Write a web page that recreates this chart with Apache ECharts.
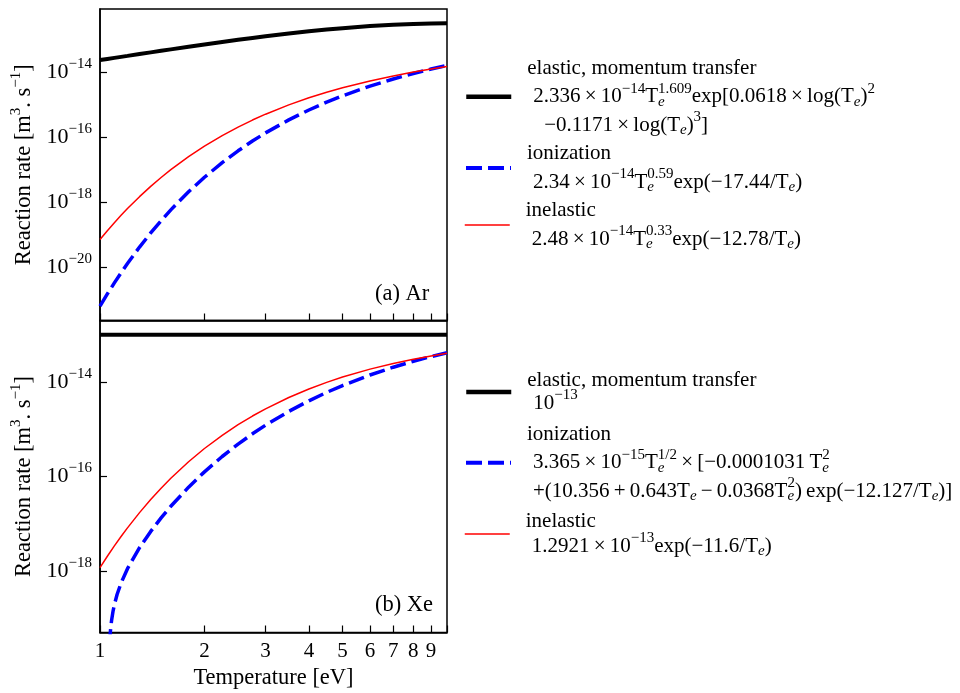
<!DOCTYPE html>
<html><head><meta charset="utf-8">
<script src="https://cdn.jsdelivr.net/npm/echarts@6/dist/echarts.min.js"></script>
<style>html,body{margin:0;padding:0;background:#fff}#c{width:960px;height:693px}</style>
</head><body><div id="c"></div>
<script>
const FONT = 'Liberation Serif';

// ---- data ----
const temperature = [1,1.05,1.1,1.15,1.2,1.3,1.4,1.5,1.6,1.8,2,2.25,2.5,2.75,3,3.5,4,4.5,5,6,7,8,9,10];
const arElastic = [2.336e-14,2.527e-14,2.724e-14,2.927e-14,3.136e-14,3.571e-14,4.024e-14,4.496e-14,4.983e-14,6.000e-14,7.060e-14,8.427e-14,9.822e-14,1.1223e-13,1.2622e-13,1.5346e-13,1.7914e-13,2.0283e-13,2.2417e-13,2.5956e-13,2.852e-13,3.022e-13,3.119e-13,3.155e-13];
const arIonization = [6.24e-22,1.473e-21,3.222e-21,6.589e-21,1.271e-20,4.075e-20,1.110e-19,2.653e-19,5.700e-19,2.051e-18,5.752e-18,1.624e-17,3.752e-17,7.482e-17,1.337e-16,3.359e-16,6.775e-16,1.179e-15,1.848e-15,3.680e-15,6.105e-15,9.020e-15,1.232e-14,1.591e-14];
const arInelastic = [6.99e-20,1.304e-19,2.304e-19,3.875e-19,6.243e-19,1.454e-18,3.007e-18,5.652e-18,9.838e-18,2.484e-17,5.232e-17,1.106e-16,2.021e-16,3.320e-16,5.031e-16,9.732e-16,1.606e-15,2.380e-15,3.274e-15,5.323e-15,7.596e-15,9.971e-15,1.238e-14,1.477e-14];
const xeElasticT = [1, 10];
const xeElastic = [1e-13, 1e-13];
const xeInelastic = [1.184e-18,2.058e-18,3.400e-18,5.377e-18,8.186e-18,1.722e-17,3.258e-17,5.657e-17,9.177e-17,2.054e-16,3.912e-16,7.449e-16,1.248e-15,1.903e-15,2.704e-15,4.697e-15,7.111e-15,9.813e-15,1.270e-14,1.869e-14,2.463e-14,3.030e-14,3.559e-14,4.050e-14];
const xeIonT = [1.065,1.07,1.075,1.08,1.09,1.1,1.12,1.15,1.2,1.3,1.4,1.5,1.6,1.8,2,2.25,2.5,2.75,3,3.5,4,4.5,5,6,7,8,9,10];
const xeIonization = [2.720e-20,4.729e-20,6.852e-20,9.094e-20,1.395e-19,1.935e-19,3.189e-19,5.571e-19,1.120e-18,3.126e-18,6.900e-18,1.332e-17,2.343e-17,5.950e-17,1.253e-16,2.649e-16,4.849e-16,7.993e-16,1.218e-15,2.386e-15,3.994e-15,6.015e-15,8.400e-15,1.405e-14,2.051e-14,2.741e-14,3.445e-14,4.137e-14];

const xTickValues = [1,2,3,4,5,6,7,8,9,10];
const xTickLabels = [1,2,3,4,5,6,7,8,9];
const arYTicks = [1e-20,1e-18,1e-16,1e-14];
const xeYTicks = [1e-18,1e-16,1e-14];
const arYRange = [Math.pow(10,-21.65), Math.pow(10,-12.06)];
const xeYRange = [Math.pow(10,-19.3), Math.pow(10,-12.7)];

const legendText = {
  'Ar elastic': '{g0| }elastic, momentum transfer\n{g1| }2.336\u2009×\u200910{p|−14}T{sz|e}{p|1.609}exp[0.0618\u2009×\u2009log(T{s|e}){p|2}\n{g2| }−0.1171\u2009×\u2009log(T{s|e}){p|3}]',
  'Ar ionization': '{g0| }ionization\n{g1| }2.34\u2009×\u200910{p|−14}T{sz|e}{p|0.59}exp(−17.44/T{s|e})',
  'Ar inelastic': '{g0| }inelastic\n{g1| }2.48\u2009×\u200910{p|−14}T{sz|e}{p|0.33}exp(−12.78/T{s|e})',
  'Xe elastic': '{g0| }elastic, momentum transfer\n{g1| }10{p|−13}',
  'Xe ionization': '{g0| }ionization\n{g1| }3.365\u2009×\u200910{p|−15}T{sz|e}{p|1/2}\u2009×\u2009[−0.0001031\u2009T{sz|e}{p|2}\n{g1| }+(10.356\u2009+\u20090.643T{s|e}\u2009−\u20090.0368T{sz|e}{p|2})\u2009exp(−12.127/T{s|e})]',
  'Xe inelastic': '{g0| }inelastic\n{g1| }1.2921\u2009×\u200910{p|−13}exp(−11.6/T{s|e})'
};
const legendLine = {
  'Ar elastic': {color: '#000', width: 4.5, type: 'solid'},
  'Ar ionization': {color: '#0000ff', width: 4, type: [16, 6]},
  'Ar inelastic': {color: '#ff0000', width: 1.5, type: 'solid'},
  'Xe elastic': {color: '#000', width: 4.5, type: 'solid'},
  'Xe ionization': {color: '#0000ff', width: 4, type: [16, 6]},
  'Xe inelastic': {color: '#ff0000', width: 1.5, type: 'solid'}
};

function zip(xs, ys) { return xs.map((x, i) => [x, ys[i]]); }

function makeRich(lh) {
  const base = {fontFamily: FONT, color: '#000', lineHeight: lh};
  return {
    p: Object.assign({fontSize: 15, padding: [0,0,16,0], verticalAlign: 'middle'}, base),
    s: Object.assign({fontSize: 15, fontStyle: 'italic', padding: [10,0,0,0], verticalAlign: 'middle'}, base),
    sz: Object.assign({fontSize: 15, fontStyle: 'italic', padding: [10,0,0,0], width: 0, verticalAlign: 'middle'}, base),
    g0: Object.assign({fontSize: 21, width: 11}, base),
    g1: Object.assign({fontSize: 21, width: 17}, base),
    g2: Object.assign({fontSize: 21, width: 28}, base)
  };
}

function legendEntry(name, top, lh) {
  return {
    data: [name], left: 464, top: top, orient: 'vertical', padding: 0,
    itemWidth: 45, itemHeight: 14, selectedMode: false,
    itemStyle: {opacity: 0, borderWidth: 0},
    lineStyle: Object.assign({opacity: 1}, legendLine[name]),
    formatter: n => legendText[n],
    textStyle: {fontFamily: FONT, fontSize: 21, color: '#000', lineHeight: lh, rich: makeRich(lh)}
  };
}

const supRich = {
  b: {fontFamily: FONT, fontSize: 22, color: '#000'},
  p: {fontFamily: FONT, fontSize: 15, color: '#000', padding: [0,0,16,0]}
};
const nameRich = {
  p: {fontFamily: FONT, fontSize: 15, color: '#000', padding: [0,0,16,0]}
};
const yLabelFmt = v => '{b|10}{p|−' + Math.abs(Math.round(Math.log10(v))) + '}';

function xAxisDef(grid, showLabels) {
  const ax = {
    gridIndex: grid, type: 'log', logBase: 10, min: 1, max: 10,
    axisLine: {show: true, onZero: false, lineStyle: {color: '#000', width: 1.5}},
    axisTick: {show: true, inside: true, length: 7, customValues: xTickValues, lineStyle: {color: '#000', width: 1.2}},
    axisLabel: {show: showLabels, customValues: xTickLabels, margin: 8, fontFamily: FONT, fontSize: 21, color: '#000',
                formatter: v => String(Math.round(v))},
    splitLine: {show: false}, minorTick: {show: false}
  };
  if (showLabels) {
    ax.name = 'Temperature [eV]';
    ax.nameLocation = 'middle';
    ax.nameGap = 34;
    ax.nameTextStyle = {fontFamily: FONT, fontSize: 22.5, color: '#000'};
  }
  return ax;
}
function yAxisDef(grid, range, ticks) {
  return {
    gridIndex: grid, type: 'log', logBase: 10, min: range[0], max: range[1],
    axisLine: {show: true, lineStyle: {color: '#000', width: 1.5}},
    axisTick: {show: true, inside: true, length: 7, customValues: ticks, lineStyle: {color: '#000', width: 1.2}},
    axisLabel: {customValues: ticks, margin: 8, formatter: yLabelFmt, rich: supRich},
    splitLine: {show: false}, minorTick: {show: false},
    name: 'Reaction rate [m{p|3}. s{p|−1}]', nameLocation: 'middle', nameGap: 60,
    nameTextStyle: {fontFamily: FONT, fontSize: 22.5, color: '#000', rich: nameRich}
  };
}

function line(name, xi, data, color, width, type) {
  return {
    type: 'line', name: name, xAxisIndex: xi, yAxisIndex: xi, data: data,
    symbol: 'none', clip: true, animation: false,
    lineStyle: {color: color, width: width, type: type || 'solid'},
    itemStyle: {color: color}
  };
}

const chart = echarts.init(document.getElementById('c'), null, {renderer: 'canvas'});
chart.setOption({
  animation: false,
  backgroundColor: '#fff',
  textStyle: {fontFamily: FONT},
  grid: [
    {left: 100, top: 9, width: 347, height: 311.5, show: true, borderColor: '#000', borderWidth: 1.5},
    {left: 100, top: 320.5, width: 347, height: 312, show: true, borderColor: '#000', borderWidth: 1.5}
  ],
  xAxis: [xAxisDef(0, false), xAxisDef(1, true)],
  yAxis: [yAxisDef(0, arYRange, arYTicks), yAxisDef(1, xeYRange, xeYTicks)],
  legend: [
    legendEntry('Ar elastic', 54, 28.5),
    legendEntry('Ar ionization', 139, 29),
    legendEntry('Ar inelastic', 196, 29),
    legendEntry('Xe elastic', 369, 23),
    legendEntry('Xe ionization', 420, 28.5),
    legendEntry('Xe inelastic', 509, 25)
  ],
  graphic: [
    {type: 'text', left: 375, top: 283, style: {text: '(a) Ar', fontFamily: FONT, fontSize: 22.5, fill: '#000'}},
    {type: 'text', left: 375, top: 594, style: {text: '(b) Xe', fontFamily: FONT, fontSize: 22.5, fill: '#000'}}
  ],
  series: [
    line('Ar elastic', 0, zip(temperature, arElastic), '#000', 4),
    line('Ar ionization', 0, zip(temperature, arIonization), '#0000ff', 3.5, [16, 6]),
    line('Ar inelastic', 0, zip(temperature, arInelastic), '#ff0000', 1.5),
    line('Xe elastic', 1, zip(xeElasticT, xeElastic), '#000', 4),
    line('Xe ionization', 1, zip(xeIonT, xeIonization), '#0000ff', 3.5, [16, 6]),
    line('Xe inelastic', 1, zip(temperature, xeInelastic), '#ff0000', 1.5)
  ]
});
</script>
</body></html>
